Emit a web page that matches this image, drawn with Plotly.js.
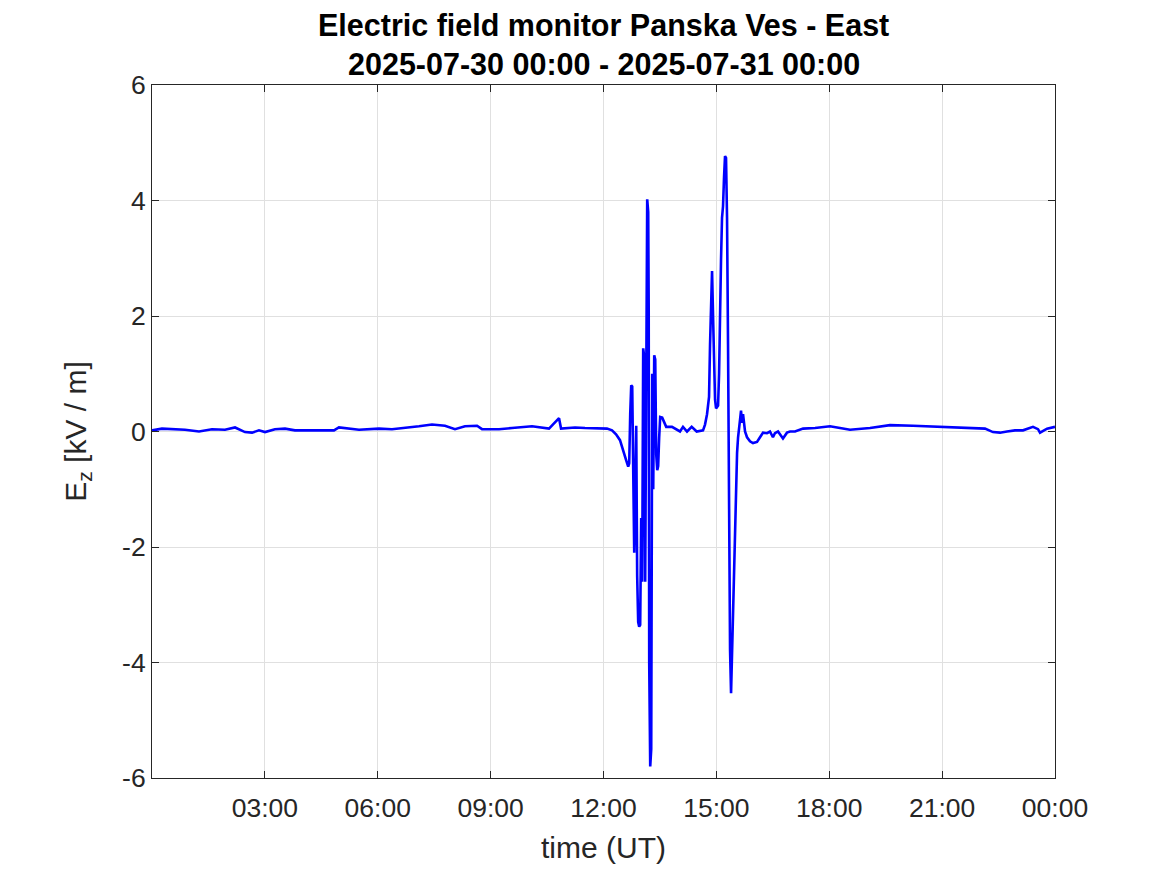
<!DOCTYPE html>
<html>
<head>
<meta charset="utf-8">
<script src="https://cdn.plot.ly/plotly-3.0.1.min.js"></script>
<style>html,body{margin:0;padding:0;background:#fff;}#chart{width:1167px;height:875px;}</style>
</head>
<body>
<div id="chart"></div>
<script>
// Minutes after 2025-07-30 00:00 UT
const minutes = [
  0, 15.9, 52.6, 75, 95.7, 116.4, 132.4, 148.3, 159.5, 170.6, 180.2, 196.1, 212.1, 228,
  266.3, 290.2, 298.1, 318.9, 330.1, 362, 382.7, 425.8, 446.5, 467.2, 483.2, 499.1, 518.3,
  526.3, 553.4, 574.1, 606, 633.1, 645.9, 649.1, 652.3, 674.6, 690.5, 714.4, 725.6, 733.6,
  740, 746.3, 751, 756.2, 759.4, 761, 762.6, 764.2, 765.8, 767.4, 769, 770.6, 772.2, 773.7,
  775.3, 776.9, 778.5, 780.1, 781.7, 783.3, 784.9, 786.5, 788.1, 789.7, 791.3, 792.1, 792.9,
  794.5, 796.1, 796.9, 797.7, 799.3, 800.9, 802.5, 804.1, 805.7, 807.2, 808.8, 810.4, 813.6,
  816.8, 820, 829.2, 842, 846.8, 853.2, 860.6, 868.6, 878.7, 881.9, 885.1, 888.3, 889.9,
  891.5, 893.1, 894.7, 896.3, 897.9, 899.5, 901.1, 902.7, 904.3, 905.8, 907.4, 909, 910.6,
  912.2, 913.8, 915.4, 917, 918.6, 920.2, 921.8, 923.4, 925, 926.6, 928.2, 929.8, 931.4,
  933, 934.6, 936.1, 937.7, 939.3, 940.9, 942.5, 944.1, 945.7, 948.9, 953.6, 958.4, 964.8,
  969.6, 974.4, 980.7, 985.5, 990.2, 993.4, 998.3, 1006.2, 1012.6, 1017.4, 1025.4, 1033.4,
  1038.2, 1057.3, 1081.2, 1097.1, 1113.1, 1145, 1176.9, 1213.6, 1256.6, 1309.2, 1328.4,
  1341.1, 1352.3, 1363.5, 1376.2, 1389, 1404.9, 1412.9, 1416.1, 1427.3, 1436.8, 1440
];
// Vertical electric field Ez [kV/m]
const ez = [
  0.02, 0.05, 0.03, 0.0, 0.04, 0.03, 0.07, -0.01, -0.02, 0.02, -0.01, 0.04, 0.05, 0.02,
  0.02, 0.02, 0.07, 0.05, 0.03, 0.05, 0.04, 0.09, 0.12, 0.1, 0.04, 0.09, 0.1,
  0.04, 0.04, 0.06, 0.09, 0.05, 0.2, 0.23, 0.05, 0.07, 0.06, 0.06, 0.05, 0.02,
  -0.05, -0.15, -0.3, -0.5, -0.61, -0.55, 0.3, 0.8, 0.78, -0.5, -2.1, -1.0, 0.1, -2.5,
  -3.3, -3.38, -3.35, -1.5, -2.6, 1.44, 1.3, -2.6, 0.5, 4.02, 3.8, 2.1, -4.0,
  -5.8, -5.5, -2.9, 1.0, -1.0, 1.32, 1.25, -0.4, -0.67, -0.6, -0.1, 0.25, 0.24,
  0.15, 0.08, 0.08, 0.0, 0.08, 0.0, 0.08, 0.0, 0.02, 0.12, 0.3, 0.6, 1.5,
  2.5, 2.78, 2.0, 1.0, 0.55, 0.4, 0.42, 0.45, 1.0, 2.2, 2.97, 3.7, 3.9,
  4.4, 4.77, 4.74, 3.7, 1.5, -2.0, -3.78, -4.53, -3.8, -2.9, -2.05, -1.5, -0.9,
  -0.37, -0.1, 0.1, 0.2, 0.36, 0.15, 0.3, 0.1, 0.0, -0.1, -0.17, -0.2, -0.18,
  -0.1, -0.02, -0.03, 0.0, -0.1, -0.03, 0.0, -0.12, -0.02, 0.0, 0.0, 0.03,
  0.05, 0.06, 0.09, 0.06, 0.03, 0.06, 0.11, 0.1, 0.08, 0.06, 0.05,
  -0.01, -0.02, 0.0, 0.02, 0.02, 0.08, 0.04, -0.02, 0.05, 0.08, 0.08
];
const tickHours = [3, 6, 9, 12, 15, 18, 21, 24];
const tickLabels = ["03:00", "06:00", "09:00", "12:00", "15:00", "18:00", "21:00", "00:00"];
const yTicks = [-6, -4, -2, 0, 2, 4, 6];
const titleLines = ["Electric field monitor Panska Ves - East", "2025-07-30 00:00 - 2025-07-31 00:00"];

const base = Date.UTC(2025, 6, 30);
function toStr(ms) {
  const d = new Date(ms);
  const p = n => String(n).padStart(2, "0");
  return d.getUTCFullYear() + "-" + p(d.getUTCMonth() + 1) + "-" + p(d.getUTCDate()) + " " +
    p(d.getUTCHours()) + ":" + p(d.getUTCMinutes()) + ":" + p(d.getUTCSeconds());
}
const xs = minutes.map(m => toStr(base + Math.round(m * 60000)));
const tickVals = tickHours.map(h => toStr(base + h * 3600000));

const font = "Liberation Sans, Arial, sans-serif";
const trace = {
  x: xs, y: ez, type: "scatter", mode: "lines",
  line: {color: "#0000ff", width: 2.6}, hoverinfo: "skip"
};
const layout = {
  width: 1167, height: 875,
  margin: {l: 152, r: 112, t: 85, b: 97},
  paper_bgcolor: "#ffffff", plot_bgcolor: "#ffffff",
  showlegend: false,
  font: {family: font, color: "#262626"},
  xaxis: {
    type: "date",
    range: [toStr(base), toStr(base + 24 * 3600000)],
    tickmode: "array", tickvals: tickVals, ticktext: tickLabels,
    ticks: "inside", ticklen: 7, tickcolor: "#262626", tickwidth: 1,
    showline: true, linecolor: "#262626", linewidth: 1, mirror: "ticks",
    showgrid: true, gridcolor: "#e0e0e0", gridwidth: 1, zeroline: false,
    tickfont: {size: 26.5, color: "#262626", family: font},
    ticklabelstandoff: 6,
    title: {text: "time (UT)", font: {size: 30, color: "#262626", family: font}, standoff: 15},
    fixedrange: true
  },
  yaxis: {
    range: [-6, 6],
    tickmode: "array", tickvals: yTicks, ticktext: yTicks.map(String),
    ticks: "inside", ticklen: 7, tickcolor: "#262626", tickwidth: 1,
    showline: true, linecolor: "#262626", linewidth: 1, mirror: "ticks",
    showgrid: true, gridcolor: "#e0e0e0", gridwidth: 1, zeroline: false,
    tickfont: {size: 26.5, color: "#262626", family: font},
    title: {text: "E<sub>z</sub> [kV / m]", font: {size: 30, color: "#262626", family: font}, standoff: 26},
    fixedrange: true
  },
  annotations: [
    {text: "<b>" + titleLines[0] + "</b>", xref: "paper", yref: "paper", x: 0.5, y: 1.0866,
     xanchor: "center", yanchor: "middle", showarrow: false, font: {size: 30.5, color: "#000000", family: font}},
    {text: "<b>" + titleLines[1] + "</b>", xref: "paper", yref: "paper", x: 0.5, y: 1.0303,
     xanchor: "center", yanchor: "middle", showarrow: false, font: {size: 30.5, color: "#000000", family: font}}
  ]
};
Plotly.newPlot("chart", [trace], layout, {displayModeBar: false, staticPlot: true});
</script>
</body>
</html>
